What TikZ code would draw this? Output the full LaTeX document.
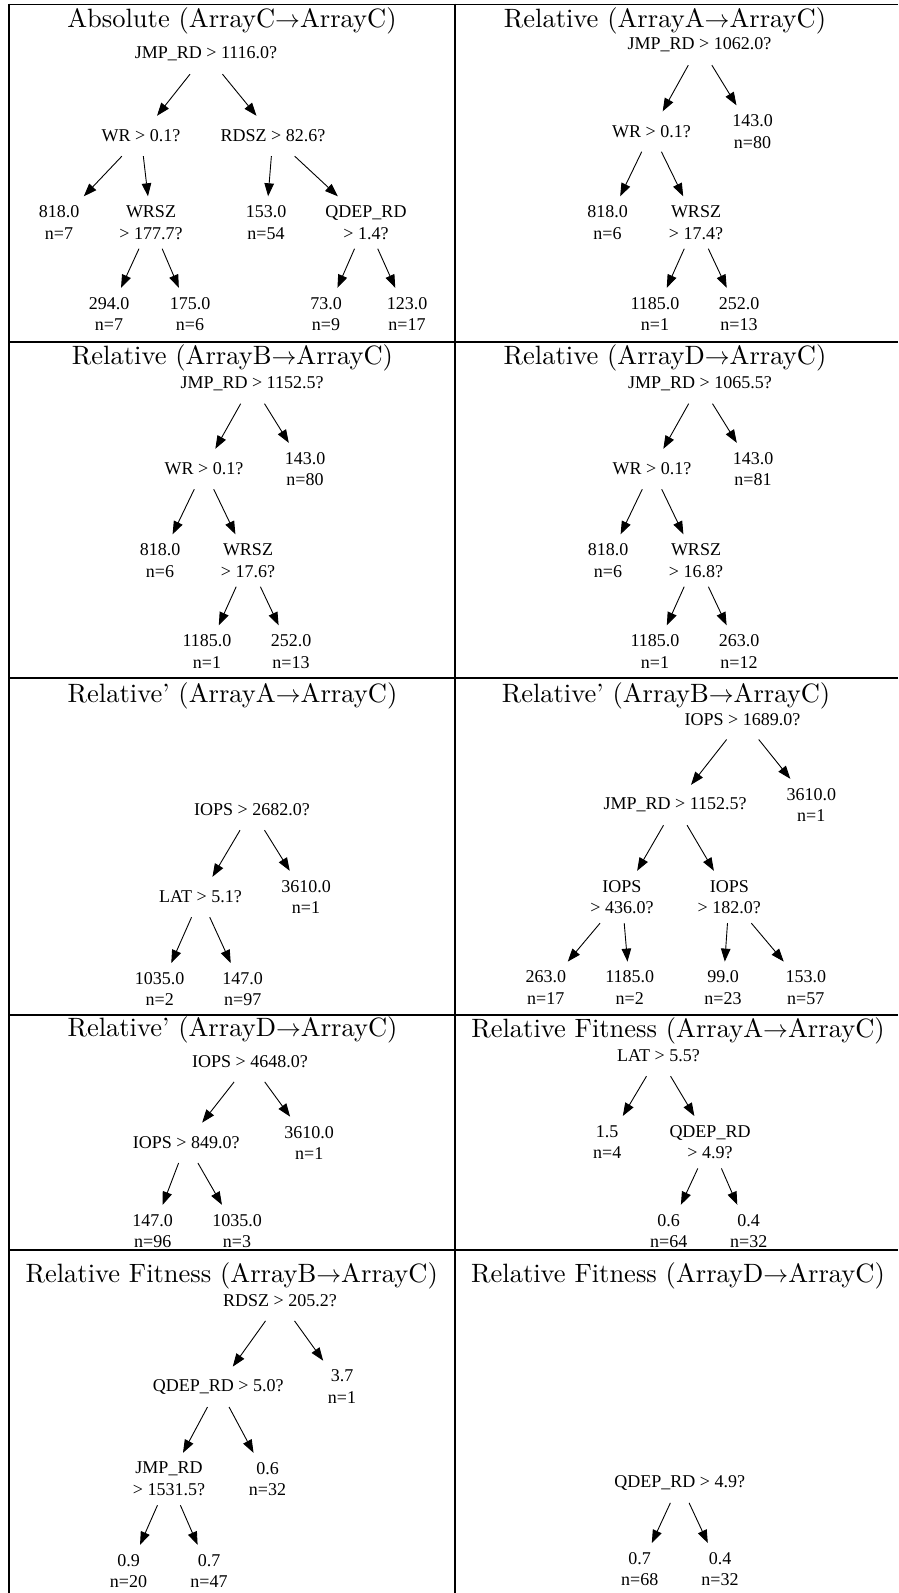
\documentclass[tikz,border=0pt]{standalone}
\usepackage{fontspec}
\newfontfamily\tms{Liberation Serif}
\newfontfamily\lmten{lmroman10-regular.otf}[Ligatures=TeX]
\usetikzlibrary{arrows.meta}
\tikzset{
  q/.style={font={\tms\fontsize{18}{21.6}\selectfont}, align=center, inner sep=0pt, minimum width=60pt, minimum height=40pt},
  q2/.style={q, minimum height=52pt},
  ttl/.style={font={\lmten\fontsize{26.5}{30}\selectfont}, inner sep=0pt, anchor=base},
  arr/.style={-{Triangle[length=13pt,width=9.5pt]}, line width=0.9pt},
  rulez/.style={line width=1.8pt}
}
\begin{document}
\begin{tikzpicture}[x=1pt,y=-1pt]
\useasboundingbox (0,0) rectangle (898,1593);
% grid
\draw[rulez] (9,4.5) -- (898,4.5);
\draw[rulez] (9,341.8) -- (898,341.8);
\draw[rulez] (9,678.3) -- (898,678.3);
\draw[rulez] (9,1015) -- (898,1015);
\draw[rulez] (9,1250.3) -- (898,1250.3);
\draw[rulez] (9,3.6) -- (9,1593);
\draw[rulez] (455,3.6) -- (455,1593);
% titles
\node[ttl] (t1) at (232,27.5) {Absolute (ArrayC$\rightarrow$ArrayC)};
\node[ttl] (t2) at (665,27) {Relative (ArrayA$\rightarrow$ArrayC)};
\node[ttl] (t3) at (232.5,364) {Relative (ArrayB$\rightarrow$ArrayC)};
\node[ttl] (t4) at (665,364) {Relative (ArrayD$\rightarrow$ArrayC)};
\node[ttl] (t5) at (232.5,702) {Relative’ (ArrayA$\rightarrow$ArrayC)};
\node[ttl] (t6) at (666,702) {Relative’ (ArrayB$\rightarrow$ArrayC)};
\node[ttl] (t7) at (232.5,1036) {Relative’ (ArrayD$\rightarrow$ArrayC)};
\node[ttl] (t8) at (678,1037) {Relative Fitness (ArrayA$\rightarrow$ArrayC)};
\node[ttl] (t9) at (231.7,1282) {Relative Fitness (ArrayB$\rightarrow$ArrayC)};
\node[ttl] (t10) at (678,1282) {Relative Fitness (ArrayD$\rightarrow$ArrayC)};
% panel 1
\node[q] (p1r) at (206,54) {JMP\_RD > 1116.0?};
\node[q] (p1a) at (141,136) {WR > 0.1?};
\node[q] (p1b) at (273,136) {RDSZ > 82.6?};
\node[q2] (p1c) at (59,222.5) {818.0\\n=7};
\node[q2] (p1d) at (151,222.5) {WRSZ\\> 177.7?};
\node[q2] (p1e) at (266,222.5) {153.0\\n=54};
\node[q2] (p1f) at (366,222.5) {QDEP\_RD\\> 1.4?};
\node[q2] (p1g) at (109,314) {294.0\\n=7};
\node[q2] (p1h) at (190,314) {175.0\\n=6};
\node[q2] (p1i) at (326,314) {73.0\\n=9};
\node[q2] (p1j) at (407,314) {123.0\\n=17};
\draw[arr] (p1r) -- (p1a);
\draw[arr] (p1r) -- (p1b);
\draw[arr] (p1a) -- (p1c);
\draw[arr] (p1a) -- (p1d);
\draw[arr] (p1b) -- (p1e);
\draw[arr] (p1b) -- (p1f);
\draw[arr] (p1d) -- (p1g);
\draw[arr] (p1d) -- (p1h);
\draw[arr] (p1f) -- (p1i);
\draw[arr] (p1f) -- (p1j);
% panel 2
\node[q] (p2r) at (699.5,45) {JMP\_RD > 1062.0?};
\node[q] (p2a) at (651.5,131.5) {WR > 0.1?};
\node[q2] (p2b) at (752.5,131.5) {143.0\\n=80};
\node[q2] (p2c) at (607.5,222.5) {818.0\\n=6};
\node[q2] (p2d) at (696,222.5) {WRSZ\\> 17.4?};
\node[q2] (p2e) at (655,314) {1185.0\\n=1};
\node[q2] (p2f) at (739,314) {252.0\\n=13};
\draw[arr] (p2r) -- (p2a);
\draw[arr] (p2r) -- (p2b);
\draw[arr] (p2a) -- (p2c);
\draw[arr] (p2a) -- (p2d);
\draw[arr] (p2d) -- (p2e);
\draw[arr] (p2d) -- (p2f);
% panel 3
\node[q] (p3r) at (252,383.5) {JMP\_RD > 1152.5?};
\node[q] (p3a) at (204,469) {WR > 0.1?};
\node[q2] (p3b) at (305,469) {143.0\\n=80};
\node[q2] (p3c) at (160,560.5) {818.0\\n=6};
\node[q2] (p3d) at (248,560.5) {WRSZ\\> 17.6?};
\node[q2] (p3e) at (207,651.5) {1185.0\\n=1};
\node[q2] (p3f) at (291,651.5) {252.0\\n=13};
\draw[arr] (p3r) -- (p3a);
\draw[arr] (p3r) -- (p3b);
\draw[arr] (p3a) -- (p3c);
\draw[arr] (p3a) -- (p3d);
\draw[arr] (p3d) -- (p3e);
\draw[arr] (p3d) -- (p3f);
% panel 4
\node[q] (p4r) at (700,383.5) {JMP\_RD > 1065.5?};
\node[q] (p4a) at (652,469) {WR > 0.1?};
\node[q2] (p4b) at (753,469) {143.0\\n=81};
\node[q2] (p4c) at (608,560.5) {818.0\\n=6};
\node[q2] (p4d) at (696,560.5) {WRSZ\\> 16.8?};
\node[q2] (p4e) at (655,651.5) {1185.0\\n=1};
\node[q2] (p4f) at (739,651.5) {263.0\\n=12};
\draw[arr] (p4r) -- (p4a);
\draw[arr] (p4r) -- (p4b);
\draw[arr] (p4a) -- (p4c);
\draw[arr] (p4a) -- (p4d);
\draw[arr] (p4d) -- (p4e);
\draw[arr] (p4d) -- (p4f);
% panel 5
\node[q] (p5r) at (252,810) {IOPS > 2682.0?};
\node[q] (p5a) at (200.5,897) {LAT > 5.1?};
\node[q2] (p5b) at (306,897) {3610.0\\n=1};
\node[q2] (p5c) at (159.7,989.2) {1035.0\\n=2};
\node[q2] (p5d) at (242.7,989.2) {147.0\\n=97};
\draw[arr] (p5r) -- (p5a);
\draw[arr] (p5r) -- (p5b);
\draw[arr] (p5a) -- (p5c);
\draw[arr] (p5a) -- (p5d);
% panel 6
\node[q] (p6r) at (742.5,719.3) {IOPS > 1689.0?};
\node[q] (p6a) at (675.2,805) {JMP\_RD > 1152.5?};
\node[q2] (p6b) at (811.3,805) {3610.0\\n=1};
\node[q2] (p6c) at (622,897) {IOPS\\> 436.0?};
\node[q2] (p6d) at (729.3,897) {IOPS\\> 182.0?};
\node[q2] (p6e) at (545.8,987.8) {263.0\\n=17};
\node[q2] (p6f) at (629.7,987.8) {1185.0\\n=2};
\node[q2] (p6g) at (723,987.8) {99.0\\n=23};
\node[q2] (p6h) at (805.8,987.8) {153.0\\n=57};
\draw[arr] (p6r) -- (p6a);
\draw[arr] (p6r) -- (p6b);
\draw[arr] (p6a) -- (p6c);
\draw[arr] (p6a) -- (p6d);
\draw[arr] (p6c) -- (p6e);
\draw[arr] (p6c) -- (p6f);
\draw[arr] (p6d) -- (p6g);
\draw[arr] (p6d) -- (p6h);
% panel 7
\node[q] (p7r) at (250,1061.7) {IOPS > 4648.0?};
\node[q] (p7a) at (186.3,1142.8) {IOPS > 849.0?};
\node[q2] (p7b) at (309.2,1142.8) {3610.0\\n=1};
\node[q2] (p7c) at (152.7,1231) {147.0\\n=96};
\node[q2] (p7d) at (237,1231) {1035.0\\n=3};
\draw[arr] (p7r) -- (p7a);
\draw[arr] (p7r) -- (p7b);
\draw[arr] (p7a) -- (p7c);
\draw[arr] (p7a) -- (p7d);
% panel 8
\node[q] (p8r) at (658.5,1056) {LAT > 5.5?};
\node[q2] (p8a) at (607.2,1142.2) {1.5\\n=4};
\node[q2] (p8b) at (710,1142.2) {QDEP\_RD\\> 4.9?};
\node[q2] (p8c) at (668.7,1231) {0.6\\n=64};
\node[q2] (p8d) at (748.7,1231) {0.4\\n=32};
\draw[arr] (p8r) -- (p8a);
\draw[arr] (p8r) -- (p8b);
\draw[arr] (p8b) -- (p8c);
\draw[arr] (p8b) -- (p8d);
% panel 9
\node[q] (p9r) at (280,1300.7) {RDSZ > 205.2?};
\node[q] (p9a) at (218.3,1386.8) {QDEP\_RD > 5.0?};
\node[q2] (p9b) at (342,1386.8) {3.7\\n=1};
\node[q2] (p9c) at (169,1479) {JMP\_RD\\> 1531.5?};
\node[q2] (p9d) at (267.5,1479) {0.6\\n=32};
\node[q2] (p9e) at (128.5,1571) {0.9\\n=20};
\node[q2] (p9f) at (209,1571) {0.7\\n=47};
\draw[arr] (p9r) -- (p9a);
\draw[arr] (p9r) -- (p9b);
\draw[arr] (p9a) -- (p9c);
\draw[arr] (p9a) -- (p9d);
\draw[arr] (p9c) -- (p9e);
\draw[arr] (p9c) -- (p9f);
% panel 10
\node[q] (p10r) at (679.7,1482.7) {QDEP\_RD > 4.9?};
\node[q2] (p10a) at (639.7,1569.2) {0.7\\n=68};
\node[q2] (p10b) at (720,1569.2) {0.4\\n=32};
\draw[arr] (p10r) -- (p10a);
\draw[arr] (p10r) -- (p10b);
\end{tikzpicture}
\end{document}
